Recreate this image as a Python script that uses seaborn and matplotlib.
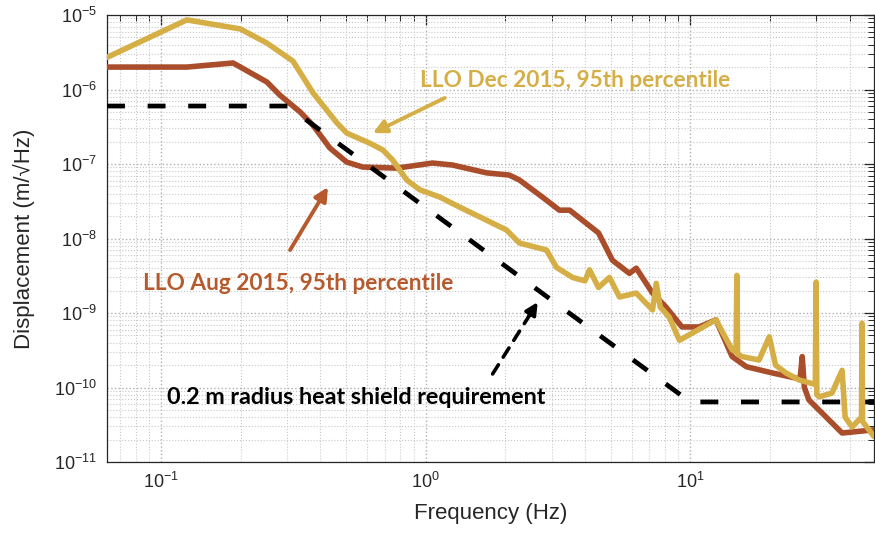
import numpy as np
import pandas as pd
import matplotlib
matplotlib.use("Agg")
import matplotlib.pyplot as plt
import seaborn as sns
from matplotlib.ticker import LogLocator, LogFormatterSciNotation, NullFormatter

# LLO Dec 2015, 95th percentile
dec_freq = [0.0624, 0.125, 0.199, 0.251, 0.315, 0.375, 0.462, 0.503, 0.615, 0.689,
            0.75, 0.848, 0.95, 1.13, 1.34, 1.60, 2.02, 2.26, 2.86, 3.12,
            3.59, 4.0, 4.16, 4.5, 4.95, 5.4, 6.25, 7.2, 7.44, 7.7,
            8.33, 9.1, 10.2, 12.5, 14.4, 14.9, 15.0, 15.1, 15.7, 18.2,
            19.9, 21.0, 23.0, 25.8, 29.7, 29.9, 30.1, 30.7, 34.3, 37.5,
            38.5, 40.9, 44.4, 44.6, 44.8, 49.5]
dec_disp = [2.7e-6, 8.6e-6, 6.5e-6, 4.2e-6, 2.4e-6, 9.0e-7, 3.55e-7, 2.6e-7, 1.9e-7, 1.54e-7,
            1.13e-7, 6.1e-8, 4.5e-8, 3.6e-8, 2.65e-8, 1.95e-8, 1.3e-8, 8.7e-9, 7.0e-9, 4.1e-9,
            3.0e-9, 2.7e-9, 3.8e-9, 2.2e-9, 3.0e-9, 1.64e-9, 1.85e-9, 1.1e-9, 2.5e-9, 1.2e-9,
            8.8e-10, 4.3e-10, 5.4e-10, 8.1e-10, 3.2e-10, 3.0e-10, 3.2e-9, 2.8e-10, 2.6e-10, 2.34e-10,
            4.8e-10, 2.0e-10, 1.57e-10, 1.26e-10, 1.1e-10, 2.6e-9, 8.0e-11, 7.5e-11, 8.4e-11, 1.7e-10,
            4.0e-11, 2.95e-11, 4.0e-11, 7.3e-10, 3.5e-11, 2.2e-11]

# LLO Aug 2015, 95th percentile
aug_freq = [0.0624, 0.125, 0.187, 0.251, 0.281, 0.335, 0.375, 0.434, 0.503, 0.578,
            0.778, 1.06, 1.26, 1.70, 2.07, 2.26, 2.76, 3.2, 3.5, 4.5,
            5.08, 5.89, 6.25, 7.2, 8.1, 9.3, 10.8, 12.5, 14.4, 16.3,
            20.4, 26.0, 26.5, 27.0, 28.1, 37.5, 49.5]
aug_disp = [2.0e-6, 2.0e-6, 2.27e-6, 1.26e-6, 8.4e-7, 5.0e-7, 3.3e-7, 1.64e-7, 1.06e-7, 9.1e-8,
            8.8e-8, 1.03e-7, 9.7e-8, 7.6e-8, 7.1e-8, 6.1e-8, 3.6e-8, 2.4e-8, 2.4e-8, 1.19e-8,
            5.1e-9, 3.4e-9, 4.0e-9, 1.85e-9, 1.2e-9, 6.5e-10, 6.5e-10, 8.1e-10, 2.6e-10, 1.9e-10,
            1.57e-10, 1.3e-10, 2.6e-10, 1.0e-10, 6.8e-11, 2.45e-11, 2.7e-11]

# 0.2 m radius heat shield requirement
req_freq = [0.0624, 0.3, 10.0, 49.5]
req_disp = [6.0e-7, 6.0e-7, 6.4e-11, 6.4e-11]

gold = "#d5af45"
rust = "#a94d2a"

sns.set_style("white")
plt.rcParams["font.family"] = ["Liberation Sans", "DejaVu Sans"]

dec = pd.DataFrame({"freq": dec_freq, "disp": dec_disp})
aug = pd.DataFrame({"freq": aug_freq, "disp": aug_disp})
req = pd.DataFrame({"freq": req_freq, "disp": req_disp})

fig = plt.figure(figsize=(8.75, 5.4), dpi=100)
ax = fig.add_axes([107 / 875, 1 - 462 / 540, 767 / 875, 447 / 540])

sns.lineplot(data=aug, x="freq", y="disp", ax=ax, color=rust, lw=4.0,
             estimator=None, sort=False, zorder=3)
sns.lineplot(data=req, x="freq", y="disp", ax=ax, color="black", lw=3.4,
             estimator=None, sort=False, zorder=4,
             linestyle=(0, (3.8, 4.8)), dash_capstyle="butt")
sns.lineplot(data=dec, x="freq", y="disp", ax=ax, color=gold, lw=4.0,
             estimator=None, sort=False, zorder=5)

ax.set_xscale("log")
ax.set_yscale("log")
ax.set_xlim(0.0624, 49.5)
ax.set_ylim(1e-11, 1e-5)

ax.xaxis.set_major_locator(LogLocator(base=10, numticks=10))
ax.xaxis.set_minor_locator(LogLocator(base=10, subs=np.arange(2, 10), numticks=20))
ax.yaxis.set_major_locator(LogLocator(base=10, numticks=10))
ax.yaxis.set_minor_locator(LogLocator(base=10, subs=np.arange(2, 10), numticks=20))
ax.xaxis.set_major_formatter(LogFormatterSciNotation())
ax.yaxis.set_major_formatter(LogFormatterSciNotation())
ax.xaxis.set_minor_formatter(NullFormatter())
ax.yaxis.set_minor_formatter(NullFormatter())

ax.grid(which="major", ls=":", color="#b0b0b0", lw=1.0)
ax.grid(which="minor", ls=":", color="#c8c8c8", lw=0.8)
ax.set_axisbelow(True)

ax.tick_params(which="both", direction="in", top=True, right=True, colors="#262626")
ax.tick_params(which="major", length=7, width=0.9, labelsize=13, pad=7)
ax.tick_params(which="minor", length=4, width=0.7)
for s in ax.spines.values():
    s.set_color("#262626")
    s.set_linewidth(0.9)

ax.set_xlabel("Frequency (Hz)", fontsize=16, labelpad=8)
ax.set_ylabel("Displacement (m/\u221aHz)", fontsize=16, labelpad=14)

# annotations
afont = dict(family=["Lato", "DejaVu Sans"], fontweight="bold", fontsize=16.3)
ax.text(3.68, 1.34e-6, "LLO Dec 2015, 95th percentile", color=gold,
        ha="center", va="center", **afont)
ax.annotate("", xy=(0.631, 2.6e-7), xytext=(1.18, 7.7e-7),
            arrowprops=dict(arrowstyle="-|>", color=gold, lw=2.8,
                            mutation_scale=20, shrinkA=0, shrinkB=0), zorder=6)

ax.text(0.329, 2.5e-9, "LLO Aug 2015, 95th percentile", color="#b65a2e",
        ha="center", va="center", **afont)
ax.annotate("", xy=(0.427, 4.9e-8), xytext=(0.307, 7.0e-9),
            arrowprops=dict(arrowstyle="-|>", color="#b65a2e", lw=2.8,
                            mutation_scale=20, shrinkA=0, shrinkB=0), zorder=6)

ax.text(0.545, 7.4e-11, "0.2 m radius heat shield requirement", color="black",
        ha="center", va="center", **dict(afont, fontsize=16.8))
ax.annotate("", xy=(2.5, 1.0e-9), xytext=(1.79, 1.52e-10),
            arrowprops=dict(arrowstyle="-", color="black", lw=2.6,
                            linestyle=(0, (3, 2.5)), shrinkA=0, shrinkB=0), zorder=6)
ax.annotate("", xy=(2.65, 1.4e-9), xytext=(2.45, 9.0e-10),
            arrowprops=dict(arrowstyle="-|>", color="black", lw=2.6,
                            mutation_scale=18, shrinkA=0, shrinkB=0), zorder=6)

fig.savefig("out.png", dpi=100)
